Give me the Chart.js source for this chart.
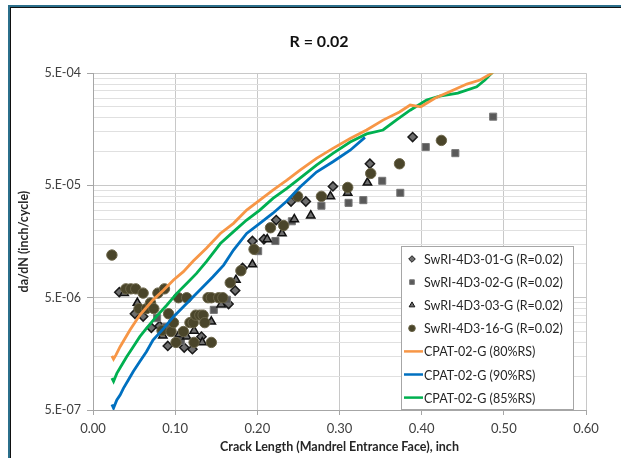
<!DOCTYPE html>
<html lang="en">
<head>
<meta charset="UTF-8">
<title>R = 0.02</title>
<script src="https://cdn.jsdelivr.net/npm/chart.js"></script>
<style>
  html, body { margin: 0; padding: 0; background: #fff; }
  canvas { display: block; }
</style>
</head>
<body>
<canvas id="crackChart" width="621" height="458"></canvas>
<script>
  // axis ticks
  const xTicks = [0, 0.1, 0.2, 0.3, 0.4, 0.5, 0.6];
  const xTickLabels = ['0.00', '0.10', '0.20', '0.30', '0.40', '0.50', '0.60'];
  const yMajorTicks = [5e-7, 5e-6, 5e-5, 5e-4];
  const yTickLabels = ['5.E-07', '5.E-06', '5.E-05', '5.E-04'];

  // SwRI test data (scatter)
  const swri01X = [0.032, 0.051, 0.061, 0.071, 0.081, 0.091, 0.111, 0.121, 0.132, 0.165, 0.173, 0.182, 0.194, 0.208, 0.223, 0.241, 0.259, 0.292, 0.337, 0.389];
  const swri01Y = [5.6e-6, 3.6e-6, 3.4e-6, 2.7e-6, 2.8e-6, 1.86e-6, 1.8e-6, 1.74e-6, 2.25e-6, 4.4e-6, 5.8e-6, 9.2e-6, 1.6e-5, 1.66e-5, 2.46e-5, 3.6e-5, 3.6e-5, 4.9e-5, 7.8e-5, 1.35e-4];

  const swri02X = [0.078, 0.089, 0.107, 0.147, 0.163, 0.201, 0.222, 0.242, 0.278, 0.311, 0.329, 0.352, 0.374, 0.405, 0.441, 0.487];
  const swri02Y = [3.3e-6, 2.76e-6, 2.07e-6, 3.9e-6, 4.8e-6, 1.3e-5, 1.6e-5, 2.4e-5, 3.3e-5, 3.5e-5, 3.7e-5, 5.5e-5, 4.3e-5, 1.1e-4, 9.7e-5, 2.05e-4];

  const swri03X = [0.038, 0.054, 0.085, 0.105, 0.114, 0.123, 0.133, 0.144, 0.156, 0.174, 0.194, 0.212, 0.230, 0.245, 0.265, 0.289, 0.310, 0.334];
  const swri03Y = [5.5e-6, 4.5e-6, 2.3e-6, 2.36e-6, 2.25e-6, 2.54e-6, 2.0e-6, 3.06e-6, 4.35e-6, 7.2e-6, 9.9e-6, 1.66e-5, 1.87e-5, 2.5e-5, 2.7e-5, 4.0e-5, 4.3e-5, 5.3e-5];

  const swri16X = [0.023, 0.040, 0.046, 0.052, 0.056, 0.061, 0.065, 0.070, 0.074, 0.079, 0.084, 0.087, 0.092, 0.095, 0.098, 0.101, 0.104, 0.110, 0.114, 0.118, 0.122, 0.123, 0.125, 0.130, 0.134, 0.136, 0.140, 0.144, 0.144, 0.153, 0.158, 0.167, 0.180, 0.196, 0.216, 0.232, 0.249, 0.278, 0.310, 0.338, 0.373, 0.424];
  const swri16Y = [1.2e-5, 6.0e-6, 6.0e-6, 6.0e-6, 4.0e-6, 5.5e-6, 4.0e-6, 4.5e-6, 4.0e-6, 5.5e-6, 2.55e-6, 6.0e-6, 3.6e-6, 2.5e-6, 3.0e-6, 2.0e-6, 5.0e-6, 2.5e-6, 5.0e-6, 3.0e-6, 3.0e-6, 2.0e-6, 3.5e-6, 3.5e-6, 3.5e-6, 3.0e-6, 5.0e-6, 5.0e-6, 2.0e-6, 5.0e-6, 5.0e-6, 6.8e-6, 8.7e-6, 1.35e-5, 2.1e-5, 2.2e-5, 4.0e-5, 4.0e-5, 4.8e-5, 6.4e-5, 7.8e-5, 1.26e-4];

  // CPAT predictions (lines)
  const cpat80X = [0.023, 0.025, 0.028, 0.033, 0.045, 0.057, 0.073, 0.086, 0.098, 0.110, 0.122, 0.138, 0.155, 0.171, 0.187, 0.203, 0.219, 0.236, 0.252, 0.272, 0.292, 0.313, 0.333, 0.353, 0.373, 0.386, 0.399, 0.416, 0.436, 0.455, 0.471, 0.485, 0.495];
  const cpat80Y = [1.52e-6, 1.42e-6, 1.55e-6, 1.83e-6, 2.58e-6, 3.51e-6, 4.78e-6, 5.86e-6, 7.2e-6, 8.53e-6, 1.06e-5, 1.38e-5, 1.87e-5, 2.3e-5, 3.02e-5, 3.71e-5, 4.55e-5, 5.58e-5, 6.85e-5, 8.71e-5, 1.07e-4, 1.31e-4, 1.56e-4, 1.91e-4, 2.26e-4, 2.6e-4, 2.51e-4, 2.99e-4, 3.47e-4, 4.0e-4, 4.35e-4, 4.98e-4, 5.8e-4];

  const cpat90X = [0.023, 0.025, 0.029, 0.033, 0.037, 0.043, 0.049, 0.057, 0.065, 0.073, 0.086, 0.098, 0.110, 0.122, 0.134, 0.146, 0.159, 0.171, 0.187, 0.203, 0.219, 0.236, 0.252, 0.272, 0.292, 0.313, 0.331];
  const cpat90Y = [5.6e-7, 5.2e-7, 6.14e-7, 6.8e-7, 7.8e-7, 9.25e-7, 1.1e-6, 1.35e-6, 1.65e-6, 2.1e-6, 2.67e-6, 3.39e-6, 4.16e-6, 5.11e-6, 6.27e-6, 7.69e-6, 9.77e-6, 1.33e-5, 1.87e-5, 2.3e-5, 2.83e-5, 3.63e-5, 4.84e-5, 6.58e-5, 8.13e-5, 1.03e-4, 1.34e-4];

  const cpat85X = [0.023, 0.025, 0.029, 0.035, 0.041, 0.049, 0.057, 0.065, 0.077, 0.090, 0.102, 0.114, 0.126, 0.138, 0.155, 0.171, 0.187, 0.203, 0.219, 0.236, 0.252, 0.272, 0.292, 0.313, 0.333, 0.353, 0.369, 0.386, 0.406, 0.422, 0.444, 0.467, 0.477, 0.485, 0.493];
  const cpat85Y = [9.6e-7, 9.0e-7, 1.06e-6, 1.26e-6, 1.49e-6, 1.83e-6, 2.25e-6, 2.67e-6, 3.39e-6, 4.31e-6, 5.47e-6, 6.71e-6, 8.24e-6, 1.05e-5, 1.52e-5, 1.94e-5, 2.46e-5, 3.02e-5, 3.84e-5, 4.71e-5, 5.82e-5, 7.6e-5, 9.66e-5, 1.22e-4, 1.44e-4, 1.56e-4, 1.91e-4, 2.34e-4, 2.88e-4, 3.13e-4, 3.33e-4, 3.79e-4, 4.35e-4, 4.98e-4, 5.8e-4];

  const pts = (xs, ys) => xs.map((x, i) => ({ x, y: ys[i] }));
  const isMajor = v => yMajorTicks.some(m => Math.abs(m - v) / m < 1e-6);

  // minor gridlines every tenth of the decade above each major tick
  const yGrid = [];
  yMajorTicks.forEach((m, i) => {
    yGrid.push(m);
    if (i < yMajorTicks.length - 1) for (let k = 2; k < 10; k++) yGrid.push(m * k);
  });

  const FONT = 'Lato, "Noto Sans", sans-serif';

  const scatterDs = (label, xs, ys, style, r, fill, line, bw, order) => ({
    label, data: pts(xs, ys), pointStyle: style, pointRadius: r, pointHoverRadius: r,
    backgroundColor: fill, borderColor: line, borderWidth: bw, order
  });
  const lineDs = (label, xs, ys, color) => ({
    label, data: pts(xs, ys), showLine: true, borderColor: color, backgroundColor: color,
    borderWidth: 2.8, pointRadius: 0, tension: 0, order: 0
  });

  const framePlugin = {
    id: 'frame',
    beforeDraw(chart) {
      const c = chart.ctx;
      c.save();
      c.fillStyle = '#fff';
      c.fillRect(0, 0, chart.width, chart.height);
      c.fillStyle = '#2b6f8b';
      c.fillRect(8, 5, chart.width - 8, 2);
      c.fillRect(8, 5, 2, chart.height - 5);
      c.fillStyle = '#111';
      c.fillRect(10, 7, chart.width - 10, 1);
      c.fillRect(10, 7, 1, chart.height - 7);
      c.restore();
    },
    afterLayout(chart) {
      // the Excel title is centred on the whole chart object, not the plot
      chart.titleBlock.left += 20;
      chart.titleBlock.right += 20;
    }
  };

  const boxLegend = {
    id: 'boxLegend',
    afterDatasetsDraw(chart) {
      const c = chart.ctx;
      const L = 401, T = 246, R = 573, B = 409, row0 = 259, step = 23.1;
      c.save();
      c.fillStyle = '#fff';
      c.fillRect(L, T, R - L, B - T);
      c.strokeStyle = '#a6a6a6';
      c.lineWidth = 1;
      c.strokeRect(L + 0.5, T + 0.5, R - L, B - T);
      c.font = '12.5px ' + FONT;
      c.textBaseline = 'middle';
      chart.data.datasets.forEach((ds, i) => {
        const y = row0 + i * step;
        if (ds.showLine) {
          c.strokeStyle = ds.borderColor;
          c.lineWidth = 2.5;
          c.beginPath();
          c.moveTo(404, y);
          c.lineTo(423, y);
          c.stroke();
        } else {
          c.fillStyle = ds.backgroundColor;
          c.strokeStyle = ds.borderColor;
          c.lineWidth = 1;
          Chart.helpers.drawPoint(c, { pointStyle: ds.pointStyle, radius: 3.3, borderWidth: 1, rotation: 0 }, 412, y);
        }
        c.fillStyle = '#262626';
        c.fillText(ds.label, 424, y + 1);
      });
      c.restore();
    }
  };

  new Chart(document.getElementById('crackChart'), {
    type: 'scatter',
    data: {
      datasets: [
        scatterDs('SwRI-4D3-01-G (R=0.02)', swri01X, swri01Y, 'rectRot', 4.6, '#6e6e6e', '#1a1a1a', 1.5, 4),
        scatterDs('SwRI-4D3-02-G (R=0.02)', swri02X, swri02Y, 'rect', 5, '#595959', '#777777', 1, 3),
        scatterDs('SwRI-4D3-03-G (R=0.02)', swri03X, swri03Y, 'triangle', 4.8, '#6e6e6e', '#111111', 1.5, 2),
        scatterDs('SwRI-4D3-16-G (R=0.02)', swri16X, swri16Y, 'circle', 5.2, '#4a452a', '#6b6549', 1, 1),
        lineDs('CPAT-02-G (80%RS)', cpat80X, cpat80Y, '#f79646'),
        lineDs('CPAT-02-G (90%RS)', cpat90X, cpat90Y, '#0070c0'),
        lineDs('CPAT-02-G (85%RS)', cpat85X, cpat85Y, '#00b050')
      ]
    },
    options: {
      responsive: false,
      animation: false,
      devicePixelRatio: 1,
      layout: { padding: { left: 12, right: 35, top: 0, bottom: 0 } },
      scales: {
        x: {
          type: 'linear', min: 0, max: 0.6,
          afterBuildTicks: s => { s.ticks = xTicks.map(v => ({ value: v })); },
          afterFit: s => { s.height = 48; },
          ticks: {
            autoSkip: false, padding: 6, color: '#404040', font: { family: FONT, size: 13 },
            callback: (v, i) => xTickLabels[i]
          },
          grid: { color: '#c8c8c8', tickColor: '#a6a6a6', tickLength: 5 },
          border: { color: '#a6a6a6' },
          title: {
            display: true, text: 'Crack Length (Mandrel Entrance Face), inch',
            color: '#262626', font: { family: FONT, size: 12.5, weight: 'bold' }, padding: { top: 0, bottom: 4 }
          }
        },
        y: {
          type: 'logarithmic', min: 5e-7, max: 5e-4,
          afterBuildTicks: s => { s.ticks = yGrid.map(v => ({ value: v })); },
          afterFit: s => { s.width = 81; },
          ticks: {
            autoSkip: false, padding: 6, color: '#404040', font: { family: FONT, size: 12.5 },
            callback: v => { const i = yMajorTicks.findIndex(m => Math.abs(m - v) / m < 1e-6); return i >= 0 ? yTickLabels[i] : ''; }
          },
          grid: {
            color: ctx => (ctx.tick && isMajor(ctx.tick.value)) ? '#c8c8c8' : '#e0e0e0',
            tickColor: ctx => (ctx.tick && isMajor(ctx.tick.value)) ? '#a6a6a6' : 'rgba(0,0,0,0)',
            tickLength: 6
          },
          border: { color: '#a6a6a6' },
          title: {
            display: true, text: 'da/dN (inch/cycle)',
            color: '#262626', font: { family: FONT, size: 12.5, weight: 'bold' }, padding: { top: 4, bottom: 0 }
          }
        }
      },
      plugins: {
        legend: { display: false },
        tooltip: { enabled: false },
        title: {
          display: true, text: 'R = 0.02', color: '#111',
          font: { family: FONT, size: 16, weight: 'bold' }, padding: { top: 32, bottom: 22 }
        }
      }
    },
    plugins: [framePlugin, boxLegend]
  });
</script>
</body>
</html>
